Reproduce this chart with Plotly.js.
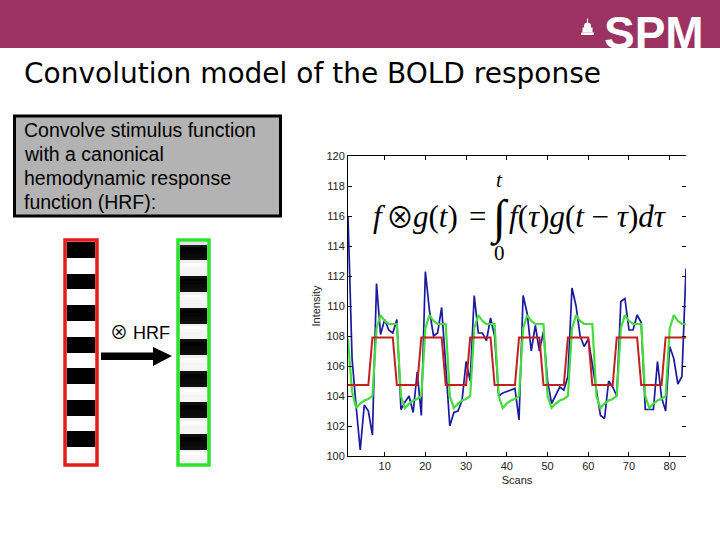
<!DOCTYPE html>
<html><head><meta charset="utf-8">
<script src="https://cdn.plot.ly/plotly-3.0.1.min.js"></script>
<style>html,body{margin:0;padding:0;background:#fff}#chart{width:720px;height:540px}</style>
</head><body><div id="chart"></div>
<script>
// ---- data ----
const scans = [1,2,3,4,5,6,7,8,9,10,11,12,13,14,15,16,17,18,19,20,21,22,23,24,25,26,27,28,29,30,
  31,32,33,34,35,36,37,38,39,40,41,42,43,44,45,46,47,48,49,50,51,52,53,54,55,56,57,58,59,60,
  61,62,63,64,65,66,67,68,69,70,71,72,73,74,75,76,77,78,79,80,81,82,83,84];

// measured BOLD signal (blue)
const measured = [116.0,106.5,103.3,100.4,103.4,103.0,101.4,111.5,108.1,109.1,108.4,108.2,109.1,103.1,103.6,104.0,102.9,105.6,102.7,112.3,
  109.7,108.0,108.2,109.9,106.0,102.0,102.9,103.0,103.7,106.3,105.0,110.7,108.2,108.2,107.7,109.2,108.0,104.0,104.2,104.3,
  104.4,104.5,102.4,110.7,109.5,107.0,108.7,107.0,108.3,105.0,103.5,104.0,104.6,104.4,105.3,111.2,110.0,108.0,107.3,107.8,
  106.0,104.5,102.7,102.5,105.0,104.6,104.0,110.3,110.5,108.4,108.4,109.4,108.9,103.1,103.1,103.1,106.3,103.9,103.0,107.3,
  106.5,104.8,105.3,112.5];

// stimulus function (red)
const stimulus = [104.73,104.73,104.73,104.73,104.73,104.73,107.9,107.9,107.9,107.9,107.9,107.9,
  104.73,104.73,104.73,104.73,104.73,104.73,107.9,107.9,107.9,107.9,107.9,107.9,
  104.73,104.73,104.73,104.73,104.73,104.73,107.9,107.9,107.9,107.9,107.9,107.9,
  104.73,104.73,104.73,104.73,104.73,104.73,107.9,107.9,107.9,107.9,107.9,107.9,
  104.73,104.73,104.73,104.73,104.73,104.73,107.9,107.9,107.9,107.9,107.9,107.9,
  104.73,104.73,104.73,104.73,104.73,104.73,107.9,107.9,107.9,107.9,107.9,107.9,
  104.73,104.73,104.73,104.73,104.73,104.73,107.9,107.9,107.9,107.9,107.9,107.9];

// stimulus convolved with HRF (green)
const convolved = [107.8,104.3,103.2,103.5,103.7,103.8,104.0,108.5,109.4,109.0,108.8,108.8,
  108.8,104.0,103.2,103.5,103.7,103.8,104.0,108.5,109.4,109.0,108.8,108.8,
  108.8,104.0,103.2,103.5,103.7,103.8,104.0,108.5,109.4,109.0,108.8,108.8,
  108.8,104.0,103.2,103.5,103.7,103.8,104.0,108.5,109.4,109.0,108.8,108.8,
  108.8,104.0,103.2,103.5,103.7,103.8,104.0,108.5,109.4,109.0,108.8,108.8,
  108.8,104.0,103.2,103.5,103.7,103.8,104.0,108.5,109.4,109.0,108.8,108.8,
  108.8,104.0,103.2,103.5,103.7,103.8,104.0,108.5,109.4,109.0,108.8,108.8];

const yTicks = [100,102,104,106,108,110,112,114,116,118,120];
const xTicks = [10,20,30,40,50,60,70,80];
const boxLines = ['Convolve stimulus function','with a canonical','hemodynamic response','function (HRF):'];

// ---- helpers (pixel -> paper) ----
const W = 720, H = 540;
const px = v => v / W;
const py = v => 1 - v / H;

const axFont = {family:'Liberation Sans, Arial, sans-serif', size:11, color:'#222'};

const traces = [
  {x: scans, y: measured, type:'scatter', mode:'lines', line:{color:'#1a1a9e', width:1.7}, hoverinfo:'skip', xaxis:'x', yaxis:'y'},
  {x: scans, y: convolved, type:'scatter', mode:'lines', line:{color:'#44dd3c', width:2.2}, hoverinfo:'skip', xaxis:'x', yaxis:'y'},
  {x: scans, y: stimulus, type:'scatter', mode:'lines', line:{color:'#c0201e', width:2}, hoverinfo:'skip', xaxis:'x', yaxis:'y2'},
  {x:[0], y: scans, z: stimulus.map(v => [v]), type:'heatmap', colorscale:[[0,'#000'],[1,'#fff']],
   showscale:false, zsmooth:false, hoverinfo:'skip', xaxis:'x2', yaxis:'y3'},
  {x:[0], y: scans, z: convolved.map(v => [v]), type:'heatmap', colorscale:[[0,'#000'],[0.15,'#111'],[0.7,'#ddd'],[1,'#fff']],
   showscale:false, zsmooth:false, hoverinfo:'skip', xaxis:'x3', yaxis:'y4'}
];

const colTop = 242, colBot = 463;
const shapes = [
  // header band
  {type:'rect', xref:'paper', yref:'paper', x0:0, x1:1, y0:py(48), y1:1, fillcolor:'#9b3262', line:{width:0}, layer:'below'},
  // logo icon
  {type:'rect', xref:'paper', yref:'paper', x0:px(581), x1:px(594), y0:py(35), y1:py(32.5), fillcolor:'#fff', line:{width:0}},
  {type:'rect', xref:'paper', yref:'paper', x0:px(582.5), x1:px(592.5), y0:py(32.5), y1:py(27.5), fillcolor:'#fff', line:{width:0}},
  {type:'circle', xref:'paper', yref:'paper', x0:px(584), x1:px(591), y0:py(29.5), y1:py(22.5), fillcolor:'#fff', line:{width:0}},
  {type:'rect', xref:'paper', yref:'paper', x0:px(587), x1:px(588), y0:py(23), y1:py(18.5), fillcolor:'#fff', line:{width:0}},
  // grey text box
  {type:'rect', xref:'paper', yref:'paper', x0:px(14.5), x1:px(280.5), y0:py(216), y1:py(116), fillcolor:'#b3b3b3', line:{color:'#000', width:3}, layer:'below'},
  // column borders
  {type:'rect', xref:'paper', yref:'paper', x0:px(65), x1:px(97), y0:py(colBot+2), y1:py(colTop-2), line:{color:'#e41b1b', width:3.5}},
  {type:'rect', xref:'paper', yref:'paper', x0:px(178), x1:px(209), y0:py(colBot+2), y1:py(colTop-2), line:{color:'#2fe02f', width:3.5}},
  // arrow
  {type:'rect', xref:'paper', yref:'paper', x0:px(101), x1:px(155), y0:py(360), y1:py(352.5), fillcolor:'#000', line:{width:0}},
  {type:'path', xref:'paper', yref:'paper',
   path:'M'+px(153)+','+py(347)+' L'+px(172)+','+py(356)+' L'+px(153)+','+py(366)+' Z', fillcolor:'#000', line:{width:0}}
];

const serif = 'Liberation Serif, Times New Roman, serif';
const otimes = '<span style="font-family:Noto Sans CJK SC, DejaVu Sans">\u2297</span>';
const fFont = {family:serif, size:31, color:'#000'};
const annotations = [
  {text:'SPM', x:px(706), y:py(33), xanchor:'right', yanchor:'middle', font:{family:'Liberation Sans, Arial, sans-serif', size:46, color:'#fff', weight:'bold'}},
  {text:'Convolution model of the BOLD response', x:px(22), y:py(73), xanchor:'left', yanchor:'middle', font:{family:'DejaVu Sans, sans-serif', size:28, color:'#000'}},
  {text:otimes + ' HRF', x:px(108), y:py(331), xanchor:'left', yanchor:'middle', font:{family:'Liberation Sans, Arial, sans-serif', size:18, color:'#000'}},
  {text:'<i>f</i>', x:px(371), y:py(216), xanchor:'left', yanchor:'middle', font:fFont},
  {text:otimes, x:px(400), y:py(216), xanchor:'center', yanchor:'middle', font:{family:serif, size:28, color:'#000'}},
  {text:'<i>g</i>(<i>t</i>)', x:px(411), y:py(216), xanchor:'left', yanchor:'middle', font:fFont},
  {text:'=', x:px(477), y:py(216), xanchor:'center', yanchor:'middle', font:fFont},
  {text:'\u222B', x:px(499), y:py(218), xanchor:'center', yanchor:'middle', font:{family:serif, size:48, color:'#000'}},
  {text:'<i>t</i>', x:px(499), y:py(180), xanchor:'center', yanchor:'middle', font:{family:serif, size:21, color:'#000'}},
  {text:'0', x:px(499), y:py(253), xanchor:'center', yanchor:'middle', font:{family:serif, size:21, color:'#000'}},
  {text:'<i>f</i>(<i>\u03C4</i>)<i>g</i>(<i>t</i> \u2212 <i>\u03C4</i>)<i>d\u03C4</i>', x:px(507), y:py(216), xanchor:'left', yanchor:'middle', font:fFont}
].map(a => Object.assign({xref:'paper', yref:'paper', showarrow:false}, a));

boxLines.forEach((t, i) => annotations.push({
  text:t, xref:'paper', yref:'paper', x:px(22), y:py(130 + i*24), xanchor:'left', yanchor:'middle', showarrow:false,
  font:{family:'Liberation Sans, Arial, sans-serif', size:19.5, color:'#000'}
}));

const layout = {
  width:W, height:H, margin:{l:0, r:0, t:0, b:0}, showlegend:false,
  paper_bgcolor:'#fff', plot_bgcolor:'rgba(0,0,0,0)',
  xaxis:{domain:[px(348), px(686)], range:[1,84], tickvals:xTicks, ticks:'inside', ticklen:4, tickcolor:'#000',
         showline:true, linecolor:'#000', linewidth:1, mirror:'ticks', showgrid:false, zeroline:false,
         tickfont:axFont, title:{text:'Scans', font:axFont, standoff:5}, anchor:'y', fixedrange:true},
  yaxis:{domain:[py(456), py(156)], range:[100,120], tickvals:yTicks, ticks:'inside', ticklen:4, tickcolor:'#000',
         showline:true, linecolor:'#000', linewidth:1, mirror:false, showgrid:false, zeroline:false,
         tickfont:axFont, title:{text:'Intensity', font:axFont, standoff:3}, anchor:'x', fixedrange:true},
  yaxis2:{overlaying:'y', side:'right', anchor:'x', range:[100,120], tickvals:yTicks, ticks:'inside', ticklen:4, tickcolor:'#000',
          showticklabels:false, showline:false, showgrid:false, zeroline:false, fixedrange:true},
  xaxis2:{domain:[px(66.5), px(95.5)], range:[-0.5,0.5], visible:false, anchor:'y3', fixedrange:true},
  yaxis3:{domain:[py(colBot), py(colTop)], range:[84.5,0.5], visible:false, anchor:'x2', fixedrange:true},
  xaxis3:{domain:[px(179.5), px(207.5)], range:[-0.5,0.5], visible:false, anchor:'y4', fixedrange:true},
  yaxis4:{domain:[py(colBot), py(colTop)], range:[84.5,0.5], visible:false, anchor:'x3', fixedrange:true},
  shapes:shapes, annotations:annotations
};

Plotly.newPlot('chart', traces, layout, {staticPlot:true, displayModeBar:false});
</script></body></html>
